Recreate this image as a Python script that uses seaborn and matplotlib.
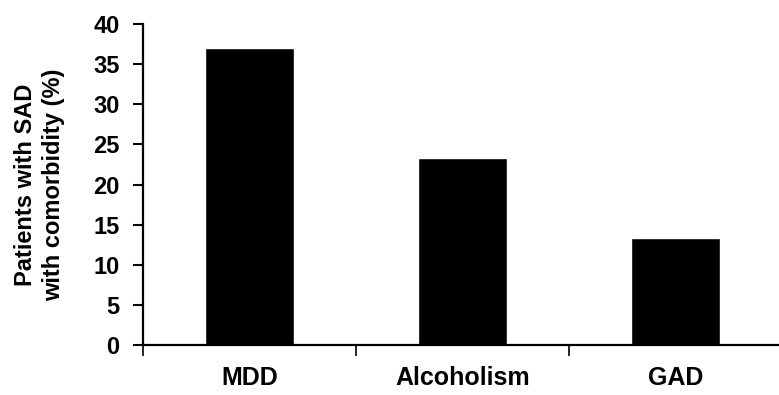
import pandas as pd
import seaborn as sns
import matplotlib.pyplot as plt
import numpy as np

# data
categories = ['MDD', 'Alcoholism', 'GAD']
comorbidity_pct = [37, 23.3, 13.3]
y_ticks = [0, 5, 10, 15, 20, 25, 30, 35, 40]

df = pd.DataFrame({'disorder': categories, 'pct': comorbidity_pct})

sns.set_theme(style="white")
plt.rcParams['font.family'] = ['Liberation Sans', 'DejaVu Sans']
plt.rcParams['font.weight'] = 'bold'
plt.rcParams['text.color'] = 'black'
plt.rcParams['axes.labelcolor'] = 'black'
plt.rcParams['xtick.color'] = 'black'
plt.rcParams['ytick.color'] = 'black'

fig = plt.figure(figsize=(7.79, 3.95), dpi=100)
ax = fig.add_axes([0.1836, 0.1266, 0.8204, 0.8126])

sns.barplot(data=df, x='disorder', y='pct', color='black', saturation=1,
            width=0.42, ax=ax)

ax.set_xlim(-0.5, 2.5)
ax.set_ylim(0, 40)
ax.set_yticks(y_ticks)
ax.set_yticklabels([str(t) for t in y_ticks], fontsize=17, fontweight='bold')
ax.set_xticklabels(categories, fontsize=18, fontweight='bold')

# category dividers as small ticks below the axis
ax.set_xticks([-0.5, 0.5, 1.5, 2.5], minor=True)
ax.tick_params(axis='x', which='major', length=0, pad=15)
ax.tick_params(axis='x', which='minor', bottom=True, direction='out', length=8, width=1.2)
ax.tick_params(axis='y', direction='out', length=7, width=1.5, pad=10, left=True)

ax.set_xlabel('')
ax.set_ylabel('Patients with SAD\nwith comorbidity (%)', fontsize=17, fontweight='bold',
              linespacing=1.3, labelpad=20)

sns.despine(ax=ax)
for side in ['left', 'bottom']:
    ax.spines[side].set_color('black')
    ax.spines[side].set_linewidth(1.6)

plt.savefig('out.png', dpi=100)
